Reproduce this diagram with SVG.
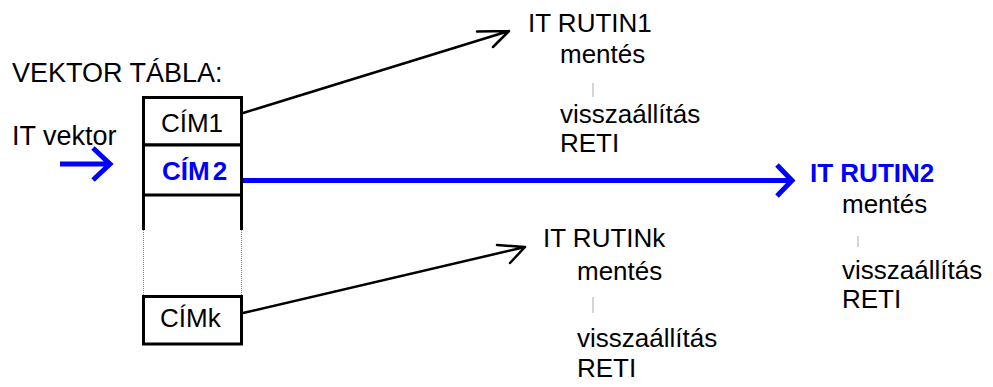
<svg xmlns="http://www.w3.org/2000/svg" width="993" height="387" viewBox="0 0 993 387">
  <style>
    text { font-family: "Liberation Sans", Arial, sans-serif; font-size: 26px; fill: #000; }
    .big { font-size: 27px; }
    .hl { font-weight: bold; fill: #0000ff; }
    .box { fill: #fff; stroke: #000; stroke-width: 3; }
    .side { stroke: #000; stroke-width: 3; fill: none; }
    .dots { stroke: #888; stroke-width: 1; stroke-dasharray: 1 1; fill: none; }
    .tick { stroke: #aaa; stroke-width: 1; fill: none; }
    .wire { stroke: #000; stroke-width: 2.5; fill: none; stroke-linecap: round; stroke-linejoin: round; }
    .wire-hl { stroke: #0000ff; stroke-width: 5; fill: none; stroke-linejoin: miter; }
  </style>
  <rect width="993" height="387" fill="#fff"/>

  <!-- vector table -->
  <g id="vektor-tabla">
    <text class="big" x="12" y="82">VEKTOR TÁBLA:</text>
    <path class="side" d="M143.5 196 V230 M241.5 196 V230"/>
    <path class="dots" d="M143.5 230 V296 M241.5 230 V296"/>
  </g>
  <g id="cim1">
    <rect class="box" x="143.5" y="97.5" width="98" height="47.5"/>
    <text x="192" y="132" text-anchor="middle">CÍM1</text>
  </g>
  <g id="cim2">
    <rect class="box" x="143.5" y="145" width="98" height="50"/>
    <text class="hl" x="162" y="180">CÍM<tspan dx="3">2</tspan></text>
  </g>
  <g id="cimk">
    <rect class="box" x="143.5" y="296.5" width="98" height="47.5"/>
    <text x="160" y="327">CÍMk</text>
  </g>

  <!-- interrupt vector input -->
  <g id="it-vektor">
    <text class="big" x="12" y="145">IT vektor</text>
    <path class="wire-hl" d="M60 164 H110 M93 148 L110 164 L93 180"/>
  </g>

  <!-- interrupt routines -->
  <g id="it-rutin1">
    <text x="528" y="32">IT RUTIN1</text>
    <text x="560" y="63">mentés</text>
    <path class="tick" d="M593 83 V97"/>
    <text x="560" y="123">visszaállítás</text>
    <text x="560" y="152">RETI</text>
  </g>
  <g id="it-rutin2">
    <text class="hl" x="810" y="182">IT RUTIN2</text>
    <text x="842" y="213">mentés</text>
    <path class="tick" d="M858 236 V247"/>
    <text x="842" y="279">visszaállítás</text>
    <text x="842" y="308">RETI</text>
  </g>
  <g id="it-rutink">
    <text x="543" y="247">IT RUTINk</text>
    <text x="577" y="280">mentés</text>
    <path class="tick" d="M593 297 V313"/>
    <text x="577" y="347">visszaállítás</text>
    <text x="577" y="377">RETI</text>
  </g>

  <!-- connectors -->
  <g id="connectors">
    <path class="wire" d="M243 113 L509 31 M477 31.5 L509 31 L493 47"/>
    <path class="wire" d="M243 313 L525 247 M497 245 L525 247 L510 263"/>
    <path class="wire-hl" d="M243 180.5 H791 M777 165 L792 180.5 L777 196"/>
  </g>
</svg>
